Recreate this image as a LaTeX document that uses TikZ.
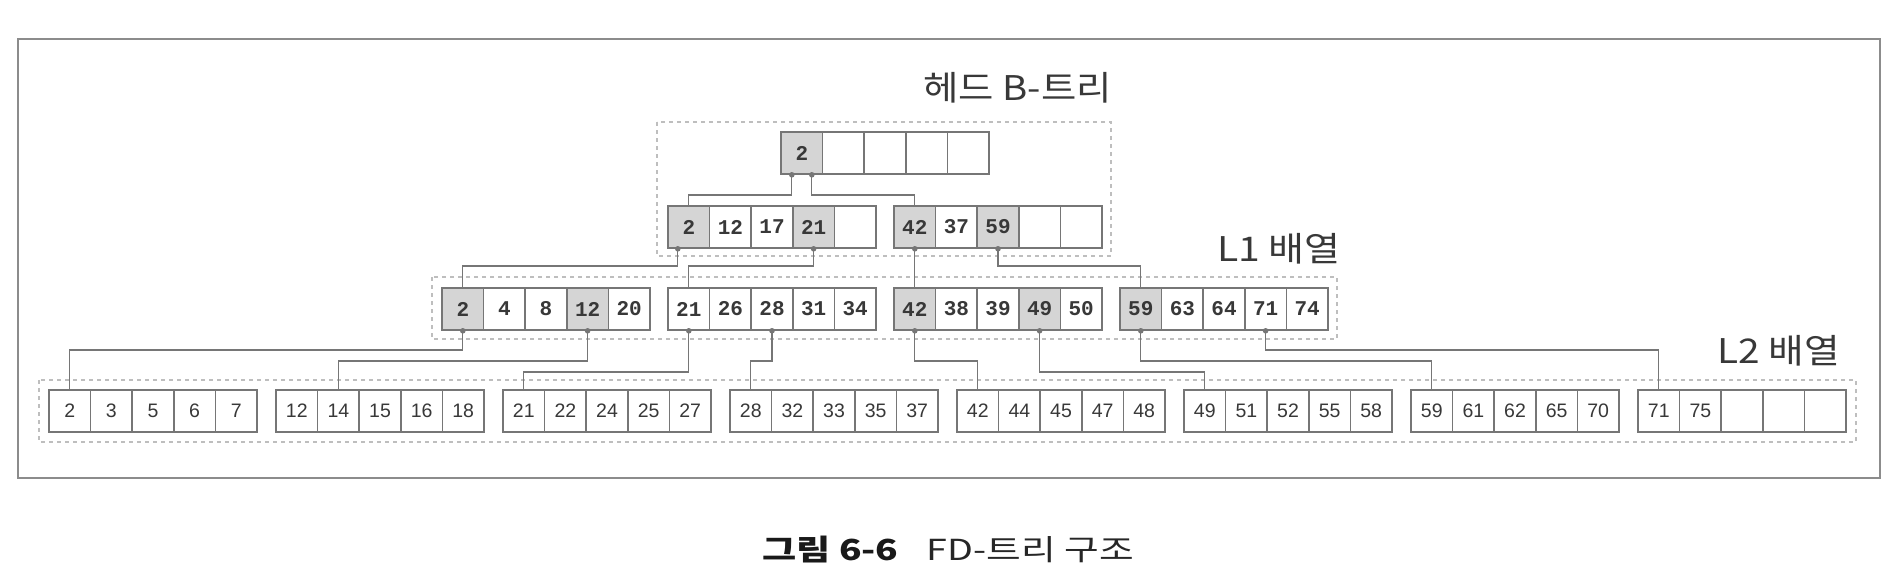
\documentclass[tikz,border=0pt]{standalone}
\usepackage{fontspec}
\setmainfont{Noto Sans CJK KR}
\newfontfamily\monokeys{Liberation Mono}
\newfontfamily\sanskeys{Liberation Sans}
\definecolor{cellline}{HTML}{767676}
\definecolor{keyfill}{HTML}{D5D5D5}
\definecolor{ink}{HTML}{383838}
\definecolor{regionline}{HTML}{BEBEBE}
\definecolor{frameline}{HTML}{8C8C8C}
\tikzset{
	cell/.style={draw=cellline, line width=1.6pt, fill=white, minimum width=41.6pt, minimum height=42pt, inner sep=0pt, text=ink},
	keycell/.style={cell, fill=keyfill},
	plaincell/.style={cell},
	upperkeys/.style={font=\monokeys\bfseries\fontsize{21}{24}\selectfont},
	leafkeys/.style={font=\sanskeys\fontsize{19.5}{23}\selectfont},
	link/.style={draw=cellline, line width=1.3pt},
	pindot/.style={fill=cellline},
	region/.style={draw=regionline, line width=1.2pt, dash pattern=on 4pt off 4pt},
	tag/.style={anchor=east, inner sep=0pt, text=ink, font=\fontsize{34}{40}\selectfont}
}
% one array of five cells: style, name, left x, top y, keys
\def\keyarray#1#2#3#4#5{\foreach \k/\s [count=\i] in {#5} \node[\s, #1] (#2-\i) at ({#3+(\i-0.5)*41.6}, {#4+21}) {\k};}
% wider lettering as in the print
\def\wide#1#2{\scalebox{#1}[1]{#2}}

\begin{document}
\begin{tikzpicture}[x=1pt, y=-1pt]
	%%%%% START %%%%%
	\useasboundingbox (0,0) rectangle (1898,582);
	\draw[draw=frameline, line width=1.5pt] (18,39) rectangle (1880,478);

	% regions
	\draw[region] (657,122) rectangle (1111,256);
	\draw[region] (432,277) rectangle (1337,339);
	\draw[region] (39,380) rectangle (1856,442);

	\node[tag] (headtag) at (1112,88) {\wide{1.13}{헤드 B-트리}};
	\node[tag] (l1tag) at (1341,249) {\wide{1.15}{L1 배열}};
	\node[tag] (l2tag) at (1840,351) {\wide{1.14}{L2 배열}};

	% head B-tree
	\keyarray{upperkeys}{hd}{781}{132}{2/keycell, /plaincell, /plaincell, /plaincell, /plaincell}
	\keyarray{upperkeys}{ha}{668}{206}{2/keycell, 12/plaincell, 17/plaincell, 21/keycell, /plaincell}
	\keyarray{upperkeys}{hb}{894}{206}{42/keycell, 37/plaincell, 59/keycell, /plaincell, /plaincell}

	% L1
	\keyarray{upperkeys}{la}{442}{288}{2/keycell, 4/plaincell, 8/plaincell, 12/keycell, 20/plaincell}
	\keyarray{upperkeys}{lb}{668}{288}{21/plaincell, 26/plaincell, 28/plaincell, 31/plaincell, 34/plaincell}
	\keyarray{upperkeys}{lc}{894}{288}{42/keycell, 38/plaincell, 39/plaincell, 49/keycell, 50/plaincell}
	\keyarray{upperkeys}{ld}{1120}{288}{59/keycell, 63/plaincell, 64/plaincell, 71/plaincell, 74/plaincell}

	% L2
	\keyarray{leafkeys}{ma}{49}{390}{2/plaincell, 3/plaincell, 5/plaincell, 6/plaincell, 7/plaincell}
	\keyarray{leafkeys}{mb}{276}{390}{12/plaincell, 14/plaincell, 15/plaincell, 16/plaincell, 18/plaincell}
	\keyarray{leafkeys}{mc}{503}{390}{21/plaincell, 22/plaincell, 24/plaincell, 25/plaincell, 27/plaincell}
	\keyarray{leafkeys}{md}{730}{390}{28/plaincell, 32/plaincell, 33/plaincell, 35/plaincell, 37/plaincell}
	\keyarray{leafkeys}{me}{957}{390}{42/plaincell, 44/plaincell, 45/plaincell, 47/plaincell, 48/plaincell}
	\keyarray{leafkeys}{mf}{1184}{390}{49/plaincell, 51/plaincell, 52/plaincell, 55/plaincell, 58/plaincell}
	\keyarray{leafkeys}{mg}{1411}{390}{59/plaincell, 61/plaincell, 62/plaincell, 65/plaincell, 70/plaincell}
	\keyarray{leafkeys}{mh}{1638}{390}{71/plaincell, 75/plaincell, /plaincell, /plaincell, /plaincell}

	% pointers: source cell / shift / level / target cell
	\foreach \src/\dx/\lvl/\dst in {hd-1/-10/195/ha-1, hd-1/10/195/hb-1,
		ha-1/-11/266/la-1, ha-4/0/266/lb-1, hb-1/0/266/lc-1, hb-3/0/266/ld-1,
		la-1/0/350/ma-1, la-4/0/361/mb-2, lb-1/0/372/mc-1, lb-3/0/361/md-1,
		lc-1/0/361/me-1, lc-4/0/372/mf-1, ld-1/0/361/mg-1, ld-4/0/350/mh-1} {
		\coordinate (pin) at ([xshift=\dx pt]\src.south);
		\draw[link] (pin) -- (pin |- 0,\lvl) -| (\dst.north);
		\fill[pindot] (pin) circle (2.8);
	}

	% caption
	\node[anchor=west, inner sep=0pt, text=black!90, font=\fontsize{29}{34}\selectfont\bfseries] (fignum) at (762,549) {\wide{1.28}{그림 6-6}};
	\node[anchor=base west, inner sep=0pt, text=black!85, font=\fontsize{29}{34}\selectfont] (figtitle) at ([xshift=28pt]fignum.base east) {\wide{1.3}{FD-트리 구조}};
	%%%%% END %%%%%
\end{tikzpicture}
\end{document}
